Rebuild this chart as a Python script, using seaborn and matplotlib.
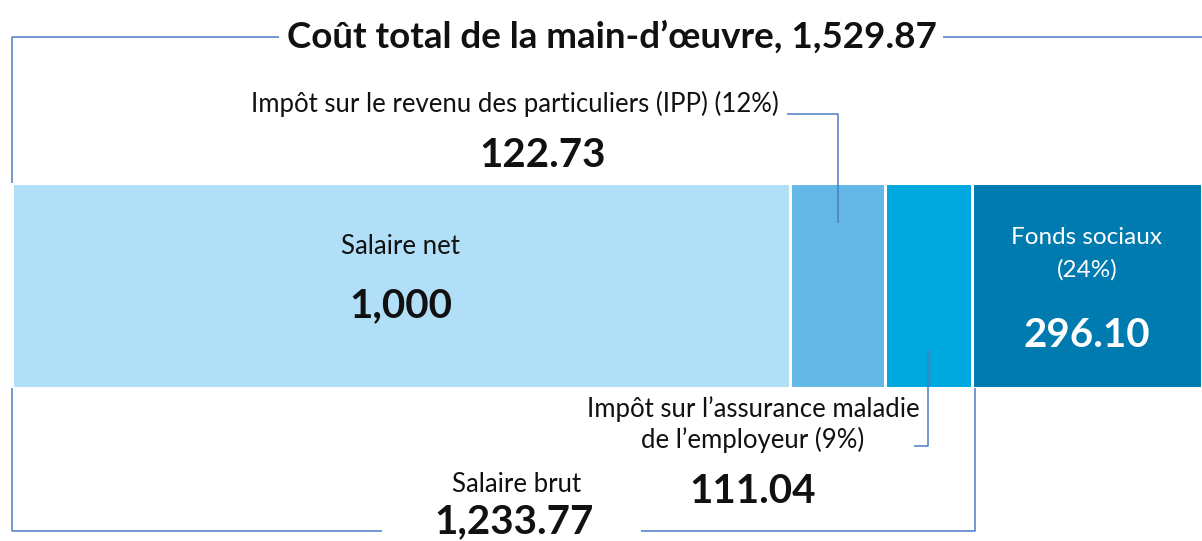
import matplotlib
matplotlib.use("Agg")
import matplotlib.pyplot as plt
import seaborn as sns
import numpy as np

# donnees (montants mensuels)
segments = ["Salaire net", "IPP", "Assurance maladie employeur", "Fonds sociaux"]
values = [1000, 122.73, 111.04, 296.10]
value_labels = ["1,000", "122.73", "111.04", "296.10"]
colors = ["#b1dff7", "#63b8e8", "#00a8e0", "#007bb0"]
brut_label = "1,233.77"
total_label = "1,529.87"

W, H = 1202, 541
X0, X1 = 12, 1202          # bord gauche / droit de la barre (px)
BAR_TOP, BAR_BOT = 183, 388
LINE_C = "#4a7cc4"
LBL, NUM = 18.5, 29

sns.set_theme(style="white")
plt.rcParams['font.family'] = ['Lato', 'DejaVu Sans']

cum = np.cumsum(values)
total = cum[-1]

def px(v):
    return X0 + v * (X1 - X0) / total

fig = plt.figure(figsize=(W / 100, H / 100), dpi=100)

# barre empilee : cumuls superposes, du plus grand au plus petit
bax = fig.add_axes([X0 / W, (H - BAR_BOT) / H, (X1 - X0) / W, (BAR_BOT - BAR_TOP) / H])
for i in reversed(range(len(values))):
    sns.barplot(x=[cum[i]], y=["cout"], color=colors[i], saturation=1, width=1,
                edgecolor="white", linewidth=2.2, ax=bax)
bax.set_xlim(0, total)
bax.set_ylim(0.5, -0.5)
bax.axis("off")

# calque d'annotations en coordonnees pixel
ax = fig.add_axes([0, 0, 1, 1])
ax.set_xlim(0, W)
ax.set_ylim(H, 0)
ax.axis("off")

centers = [px(c - v / 2) for c, v in zip(cum, values)]
txt = dict(color="#111111", ha="center", va="baseline")

title = ax.text(612, 48, f"Coût total de la main-d’œuvre, {total_label}",
                fontsize=26.5, fontweight="bold", **txt)

ipp = ax.text(515, 112, "Impôt sur le revenu des particuliers (IPP) (12%)", fontsize=LBL, **txt)
ax.text(543, 167, value_labels[1], fontsize=NUM, fontweight="bold", **txt)

ax.text(centers[0], 254, "Salaire net", fontsize=LBL, **txt)
ax.text(centers[0], 317, value_labels[0], fontsize=NUM, fontweight="bold", **txt)

wtxt = dict(txt, color="white")
ax.text(centers[3], 244, "Fonds sociaux", fontsize=17.5, **wtxt)
ax.text(centers[3], 277, "(24%)", fontsize=17.5, **wtxt)
ax.text(centers[3], 347, value_labels[3], fontsize=NUM, fontweight="bold", **wtxt)

am1 = ax.text(753, 417, "Impôt sur l’assurance maladie", fontsize=LBL, **txt)
ax.text(753, 448, "de l’employeur (9%)", fontsize=LBL, **txt)
ax.text(753, 503, value_labels[2], fontsize=NUM, fontweight="bold", **txt)

ax.text(517, 492, "Salaire brut", fontsize=LBL, **txt)
brut = ax.text(514, 533, brut_label, fontsize=NUM, fontweight="bold", **txt)

fig.canvas.draw()
r = fig.canvas.get_renderer()
inv = ax.transData.inverted()

def xext(t):
    bb = t.get_window_extent(r)
    (a, _), (b, _) = inv.transform([[bb.x0, bb.y0], [bb.x1, bb.y1]])
    return a, b

lk = dict(color=LINE_C, lw=1.1, solid_capstyle="butt")

# accolade du cout total
tx0, tx1 = xext(title)
ax.plot([X0, X0, tx0 - 8], [BAR_TOP, 37, 37], **lk)
ax.plot([tx1 + 6, W], [37, 37], **lk)

# IPP
ix0, ix1 = xext(ipp)
ax.plot([ix1 + 8, centers[1], centers[1]], [114, 114, 223], **lk)

# assurance maladie
ax0, ax1 = xext(am1)
ax.plot([ax1 - 5, centers[2], centers[2]], [446, 446, 350], **lk)

# accolade du salaire brut
bx0, bx1 = xext(brut)
xr = px(cum[2]) + 3
ax.plot([X0, X0, bx0 - 52], [BAR_BOT, 531, 531], **lk)
ax.plot([bx1 + 47, xr, xr], [531, 531, BAR_BOT], **lk)

fig.savefig("out.png", dpi=100)
